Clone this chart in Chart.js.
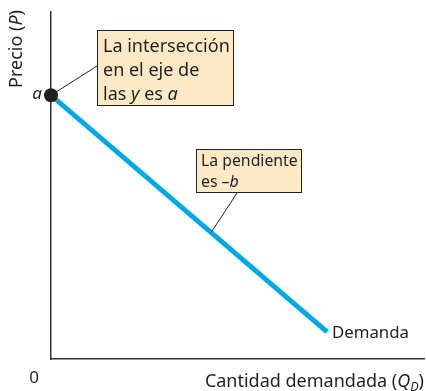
<!DOCTYPE html>
<html>
<head>
<meta charset="utf-8">
<script src="https://cdn.jsdelivr.net/npm/chart.js@4.4.0/dist/chart.umd.min.js"></script>
<style>
html, body { margin: 0; padding: 0; background: #fff; }
#wrap { width: 426px; height: 391px; }
</style>
</head>
<body>
<div id="wrap"><canvas id="demandChart"></canvas></div>
<script>
// demand curve: from the y intercept down to the last point
const quantity = [0, 7.4];
const price = [7.6, 0.78];
const seriesName = 'Demanda';
const slopeAt = 0.58; // where the "slope" callout touches the line (fraction along it)

const textColor = '#231f20';
const lineColor = '#00a8e6';
const boxFill = '#fde9c6';
const fontName = 'Noto Sans';

function font(italic, size) {
    return (italic ? 'italic ' : '') + size + 'px "' + fontName + '"';
}

// draws text made of runs, e.g. [['Precio ('], ['P', 'i'], [')']]
function drawRich(ctx, parts, x, y, align, fontSize) {
    let total = 0;
    parts.forEach(p => {
        const size = p[1] === 'sub' ? fontSize * 0.7 : fontSize;
        ctx.font = font(p[1] === 'i' || p[1] === 'sub', size);
        total += ctx.measureText(p[0]).width;
    });
    let cx = x;
    if (align === 'right') cx = x - total;
    if (align === 'center') cx = x - total / 2;
    ctx.textBaseline = 'middle';
    ctx.textAlign = 'left';
    parts.forEach(p => {
        const sub = p[1] === 'sub';
        const size = sub ? fontSize * 0.7 : fontSize;
        ctx.font = font(p[1] === 'i' || sub, size);
        ctx.fillText(p[0], cx, sub ? y + 5 : y);
        cx += ctx.measureText(p[0]).width;
    });
}

function callout(ctx, box, lines, from) {
    ctx.save();
    ctx.strokeStyle = textColor;
    ctx.lineWidth = 1;
    ctx.beginPath();
    ctx.moveTo(from.x, from.y);
    ctx.lineTo(box.ax, box.ay);
    ctx.stroke();
    ctx.fillStyle = boxFill;
    ctx.fillRect(box.x, box.y, box.w, box.h);
    ctx.strokeRect(box.x + 0.5, box.y + 0.5, box.w, box.h);
    ctx.fillStyle = textColor;
    lines.forEach((ln, i) => drawRich(ctx, ln, box.x + box.pad, box.y + box.top + i * box.lh, 'left', box.size));
    ctx.restore();
}

const labelsPlugin = {
    id: 'labels',
    afterDatasetsDraw(chart) {
        const ctx = chart.ctx;
        const xs = chart.scales.x, ys = chart.scales.y;
        const p0 = { x: xs.getPixelForValue(quantity[0]), y: ys.getPixelForValue(price[0]) };
        const p1 = { x: xs.getPixelForValue(quantity[1]), y: ys.getPixelForValue(price[1]) };

        callout(ctx, { x: 97, y: 30, w: 136, h: 75, lh: 24, top: 17, pad: 6, size: 18, ax: 97, ay: 66 },
            [[['La intersección']], [['en el eje de']], [['las '], ['y', 'i'], [' es '], ['a', 'i']]], p0);

        const onLine = { x: p0.x + (p1.x - p0.x) * slopeAt, y: p0.y + (p1.y - p0.y) * slopeAt };
        callout(ctx, { x: 196, y: 149, w: 105, h: 43, lh: 21, top: 12, pad: 5, size: 15.8, ax: 237, ay: 193 },
            [[['La pendiente']], [['es '], ['\u2013'], ['b', 'i']]], onLine);

        ctx.save();
        ctx.fillStyle = textColor;
        // intercept dot drawn last so it sits on top of the leader line
        ctx.beginPath();
        ctx.arc(p0.x, p0.y, 7, 0, Math.PI * 2);
        ctx.fill();
        drawRich(ctx, [['a', 'i']], p0.x - 9, p0.y - 1, 'right', 17);
        drawRich(ctx, [[seriesName]], p1.x + 5, p1.y + 1, 'left', 16.8);
        drawRich(ctx, [['0']], xs.left - 17, ys.bottom + 19, 'center', 17);
        drawRich(ctx, [['Cantidad demandada ('], ['Q', 'i'], ['D', 'sub'], [')']], 424, ys.bottom + 23, 'right', 18);
        ctx.translate(17, ys.top + 37);
        ctx.rotate(-Math.PI / 2);
        drawRich(ctx, [['Precio ('], ['P', 'i'], [')']], 0, 0, 'center', 18);
        ctx.restore();
    }
};

new Chart(document.getElementById('demandChart').getContext('2d'), {
    type: 'scatter',
    data: {
        datasets: [{
            label: seriesName,
            data: quantity.map((q, i) => ({ x: q, y: price[i] })),
            showLine: true,
            borderColor: lineColor,
            borderWidth: 5,
            borderCapStyle: 'butt',
            pointRadius: 0,
            pointHoverRadius: 0
        }]
    },
    options: {
        responsive: true,
        maintainAspectRatio: false,
        animation: false,
        events: [],
        layout: { padding: { left: 51, top: 12, right: 2, bottom: 32 } },
        plugins: { legend: { display: false }, tooltip: { enabled: false } },
        scales: {
            x: {
                type: 'linear', min: 0, max: 10,
                grid: { display: false, drawTicks: false },
                ticks: { display: false },
                border: { color: '#333', width: 1.5 }
            },
            y: {
                type: 'linear', min: 0, max: 10,
                grid: { display: false, drawTicks: false },
                ticks: { display: false },
                border: { color: '#333', width: 1.5 }
            }
        }
    },
    plugins: [labelsPlugin]
});
</script>
</body>
</html>
